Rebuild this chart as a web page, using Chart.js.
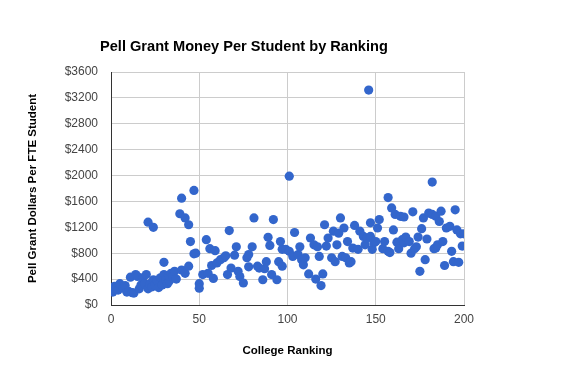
<!DOCTYPE html>
<html>
<head>
<meta charset="utf-8">
<script src="https://cdn.jsdelivr.net/npm/chart.js@4.4.1/dist/chart.umd.min.js"></script>
<style>
    html, body { margin: 0; padding: 0; background: #fff; }
    #wrap { width: 574px; height: 378px; position: relative; }
</style>
</head>
<body>
<div id="wrap"><canvas id="pellChart"></canvas></div>
<script>
// Values (rank -> Pell dollars per FTE student)
const chartTitle = 'Pell Grant Money Per Student by Ranking';
const xTitle = 'College Ranking';
const yTitle = 'Pell Grant Dollars Per FTE Student';

const ranks = [
    1, 2, 3, 4, 5, 7, 8, 9, 10, 11, 12, 13, 14, 15, 16, 17, 18, 19, 20, 21,
    21, 22, 23, 24, 24, 25, 26, 27, 28, 29, 30, 30, 31, 32, 33, 33, 34, 35, 36, 37,
    39, 40, 40, 42, 42, 44, 44, 45, 47, 47, 48, 50, 50, 52, 54, 55, 56, 57, 58, 59,
    60, 62, 64, 65, 66, 67, 68, 70, 71, 72, 73, 75, 77, 78, 78, 80, 81, 83, 84, 86,
    87, 88, 89, 90, 91, 92, 94, 95, 96, 97, 97, 99, 101, 101, 103, 104, 106, 107, 108, 109,
    110, 112, 113, 115, 116, 117, 118, 119, 120, 121, 122, 123, 125, 126, 127, 128, 129, 130, 131, 132,
    133, 134, 135, 136, 137, 138, 140, 141, 143, 144, 145, 146, 147, 147, 148, 149, 150, 151, 152, 154,
    155, 157, 157, 158, 159, 160, 161, 162, 163, 164, 165, 166, 166, 167, 169, 170, 171, 172, 173, 174,
    175, 176, 177, 178, 179, 180, 182, 182, 183, 184, 184, 185, 186, 187, 188, 189, 190, 192, 193, 194,
    195, 196, 197, 198, 199, 200
];

const pellDollars = [
    200, 290, 250, 230, 330, 260, 300, 200, 210, 430, 190, 185, 470, 440, 250, 310, 420, 330, 470, 250,
    1280, 330, 280, 1200, 390, 310, 380, 270, 420, 310, 660, 470, 390, 330, 370, 440, 490, 440, 520, 400,
    1410, 1650, 540, 1345, 490, 1240, 600, 980, 1770, 790, 800, 330, 260, 470, 1010, 490, 870, 610, 410, 840,
    650, 700, 730, 760, 470, 1150, 570, 770, 900, 520, 440, 340, 730, 590, 780, 900, 1345, 600, 570, 390,
    560, 670, 1045, 920, 470, 1320, 390, 670, 980, 600, 860, 860, 1990, 830, 750, 1120, 780, 900, 700, 620,
    730, 480, 1035, 930, 400, 900, 750, 300, 480, 1240, 910, 1035, 730, 1140, 670, 930, 1110, 1345, 750, 1190,
    730, 980, 650, 670, 880, 1230, 860, 1140, 1060, 930, 1035, 3320, 1270, 1060, 860, 960, 980, 1190, 1320, 870,
    980, 1660, 830, 810, 1500, 1160, 1400, 970, 870, 1370, 1010, 1360, 960, 1050, 980, 800, 1440, 870, 900, 1050,
    520, 1180, 1345, 700, 1020, 1420, 1900, 1400, 870, 1370, 880, 930, 1290, 1450, 980, 610, 1190, 1215, 830, 670,
    1470, 1160, 660, 1100, 910, 1100
];

const xTicks = [0, 50, 100, 150, 200];
const yTicks = [0, 400, 800, 1200, 1600, 2000, 2400, 2800, 3200, 3600];

const points = ranks.map((r, i) => ({ x: r, y: pellDollars[i] }));

const titlePlugin = {
    id: 'pageTitle',
    afterDraw(chart) {
        const c = chart.ctx;
        c.save();
        c.font = 'bold 14.6px "Liberation Sans", Arial, sans-serif';
        c.fillStyle = '#000';
        c.textBaseline = 'alphabetic';
        c.fillText(chartTitle, 100, 51);
        c.restore();
    }
};

const tickFont = { family: '"Liberation Sans", Arial, sans-serif', size: 12 };
const axisTitleFont = { family: '"Liberation Sans", Arial, sans-serif', size: 11.5, weight: 'bold' };

const ctx = document.getElementById('pellChart').getContext('2d');

const scatter = new Chart(ctx, {
    type: 'scatter',
    data: {
        datasets: [{
            label: 'Pell Grant Dollars',
            data: points,
            backgroundColor: '#3366cc',
            borderWidth: 0,
            pointRadius: 4.6,
            pointHoverRadius: 4.6
        }]
    },
    options: {
        responsive: true,
        maintainAspectRatio: false,
        animation: false,
        layout: {
            padding: { top: 72, right: 110, bottom: 0, left: 0 }
        },
        plugins: {
            legend: { display: false },
            tooltip: { enabled: false }
        },
        scales: {
            x: {
                type: 'linear',
                min: xTicks[0],
                max: xTicks[xTicks.length - 1],
                afterBuildTicks: scale => { scale.ticks = xTicks.map(v => ({ value: v })); },
                afterFit: scale => { scale.height = 73; },
                grid: { color: '#cccccc', drawTicks: false },
                border: { color: '#333333', width: 1 },
                ticks: { color: '#444444', font: tickFont, padding: 7, maxRotation: 0 },
                title: {
                    display: true,
                    text: xTitle,
                    color: '#000',
                    font: axisTitleFont,
                    padding: { top: 0, bottom: 20 }
                }
            },
            y: {
                min: yTicks[0],
                max: yTicks[yTicks.length - 1],
                afterBuildTicks: scale => { scale.ticks = yTicks.map(v => ({ value: v })); },
                afterFit: scale => { scale.width = 111; },
                grid: { color: '#cccccc', drawTicks: false },
                border: { color: '#333333', width: 1 },
                ticks: {
                    color: '#444444',
                    font: tickFont,
                    padding: 13,
                    callback: v => '$' + v
                },
                title: {
                    display: true,
                    text: yTitle,
                    color: '#000',
                    font: axisTitleFont,
                    padding: { top: 26, bottom: 0 }
                }
            }
        }
    },
    plugins: [titlePlugin]
});
</script>
</body>
</html>
